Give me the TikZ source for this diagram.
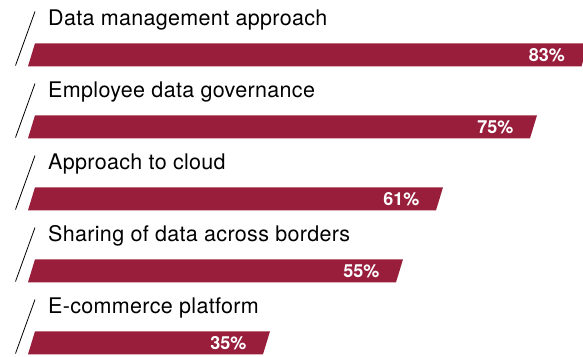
\documentclass[tikz,border=0pt]{standalone}
\usepackage{fontspec}
\setmainfont{TeX Gyre Heros}
\newfontfamily\catfont[LetterSpace=1.5]{TeX Gyre Heros}
\usetikzlibrary{positioning}
\definecolor{barred}{RGB}{152,30,60}
\tikzset{
    slash/.style = {draw=black, line width=0.8pt},
    bar/.style = {fill=barred},
    catlabel/.style = {anchor=base west, inner sep=0pt, font=\catfont\fontsize{21.5}{24}\selectfont},
    pctlabel/.style = {anchor=base east, inner sep=0pt, text=white, font=\fontsize{18}{20}\selectfont\bfseries},
}

\begin{document}
\begin{tikzpicture}[x=1pt,y=-1pt]
\useasboundingbox (0,0) rectangle (583,356);
\clip (0,0) rectangle (583,356);

% row 1
\coordinate (s1b) at (15.5, 65.5);
\coordinate (s1t) at (35.0, 11.5);
\draw[slash] (s1b) -- (s1t);
\node[catlabel] at (48, 25) (c1) {Data management approach};
\fill[bar] (28, 66.3) -- (35, 43.3) -- (588.5, 43.3) -- (581.5, 66.3) -- cycle;
\node[pctlabel] at (565, 61.5) (p1) {83\%};

% row 2
\coordinate (s2b) at (15.5, 137.5);
\coordinate (s2t) at (35.0, 83.5);
\draw[slash] (s2b) -- (s2t);
\node[catlabel] at (48, 97) (c2) {Employee data governance};
\fill[bar] (28, 138.3) -- (35, 115.3) -- (537, 115.3) -- (530, 138.3) -- cycle;
\node[pctlabel] at (513.5, 133.5) (p2) {75\%};

% row 3
\coordinate (s3b) at (15.5, 209.5);
\coordinate (s3t) at (35.0, 155.5);
\draw[slash] (s3b) -- (s3t);
\node[catlabel] at (48, 169) (c3) {Approach to cloud};
\fill[bar] (28, 210.3) -- (35, 187.3) -- (443, 187.3) -- (436, 210.3) -- cycle;
\node[pctlabel] at (419.5, 205.5) (p3) {61\%};

% row 4
\coordinate (s4b) at (15.5, 281.5);
\coordinate (s4t) at (35.0, 227.5);
\draw[slash] (s4b) -- (s4t);
\node[catlabel] at (48, 241) (c4) {Sharing of data across borders};
\fill[bar] (28, 282.3) -- (35, 259.3) -- (403, 259.3) -- (396, 282.3) -- cycle;
\node[pctlabel] at (379.5, 277.5) (p4) {55\%};

% row 5
\coordinate (s5b) at (15.5, 353.5);
\coordinate (s5t) at (35.0, 299.5);
\draw[slash] (s5b) -- (s5t);
\node[catlabel] at (48, 313) (c5) {E-commerce platform};
\fill[bar] (28, 354.3) -- (35, 331.3) -- (270, 331.3) -- (263, 354.3) -- cycle;
\node[pctlabel] at (246.5, 349.5) (p5) {35\%};

\end{tikzpicture}
\end{document}
